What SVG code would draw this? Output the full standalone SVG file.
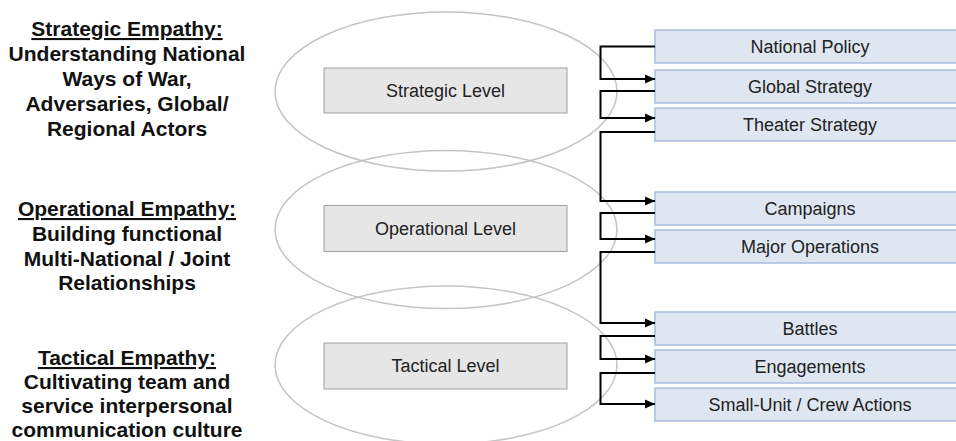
<svg xmlns="http://www.w3.org/2000/svg" width="956" height="441" viewBox="0 0 956 441">
  <defs>
    <marker id="arrow" markerWidth="10" markerHeight="10" refX="10" refY="5" orient="auto" markerUnits="userSpaceOnUse">
      <path d="M0,0.5 L10,5 L0,9.5 Z" fill="#000"/>
    </marker>
    <style>
      .heading { font-family: "Liberation Sans", Arial, sans-serif; font-size: 21px; font-weight: bold; fill: #111; text-anchor: middle; }
      .heading .u { text-decoration: underline; }
      .zone { fill: none; stroke: #c4c4c4; stroke-width: 1.5; }
      .level rect { fill: #e6e6e6; stroke: #a0a0a0; stroke-width: 1; }
      .level text { font-family: "Liberation Sans", Arial, sans-serif; font-size: 18px; fill: #222; text-anchor: middle; dominant-baseline: central; }
      .item rect { fill: #dde6f1; stroke: #a9bedb; stroke-width: 1.5; }
      .item text { font-family: "Liberation Sans", Arial, sans-serif; font-size: 18px; fill: #222; text-anchor: middle; dominant-baseline: central; }
      .link { fill: none; stroke: #000; stroke-width: 2; }
    </style>
  </defs>

  <rect width="956" height="441" fill="#fff"/>

  <!-- Empathy descriptions -->
  <g id="strategic-empathy" class="heading">
    <text x="127" y="36"><tspan class="u">Strategic Empathy:</tspan></text>
    <text x="127" y="61">Understanding National</text>
    <text x="127" y="86">Ways of War,</text>
    <text x="127" y="111">Adversaries, Global/</text>
    <text x="127" y="136">Regional Actors</text>
  </g>
  <g id="operational-empathy" class="heading">
    <text x="127" y="216"><tspan class="u">Operational Empathy:</tspan></text>
    <text x="127" y="241">Building functional</text>
    <text x="127" y="266">Multi-National / Joint</text>
    <text x="127" y="290">Relationships</text>
  </g>
  <g id="tactical-empathy" class="heading">
    <text x="127" y="365"><tspan class="u">Tactical Empathy:</tspan></text>
    <text x="127" y="389">Cultivating team and</text>
    <text x="127" y="413">service interpersonal</text>
    <text x="127" y="437">communication culture</text>
  </g>

  <!-- Level zones -->
  <ellipse class="zone" cx="446" cy="91.5" rx="171" ry="79.5"/>
  <ellipse class="zone" cx="446" cy="229.5" rx="171" ry="79"/>
  <ellipse class="zone" cx="446" cy="365" rx="171" ry="79"/>

  <g id="strategic-level" class="level">
    <rect x="324" y="68" width="243" height="45"/>
    <text x="445.5" y="91">Strategic Level</text>
  </g>
  <g id="operational-level" class="level">
    <rect x="324" y="205.5" width="243" height="46"/>
    <text x="445.5" y="229">Operational Level</text>
  </g>
  <g id="tactical-level" class="level">
    <rect x="324" y="343" width="243" height="46"/>
    <text x="445.5" y="366">Tactical Level</text>
  </g>

  <!-- Level of war items -->
  <g id="national-policy" class="item">
    <rect x="655" y="30" width="310" height="33"/>
    <text x="810" y="47">National Policy</text>
  </g>
  <g id="global-strategy" class="item">
    <rect x="655" y="70" width="310" height="33"/>
    <text x="810" y="87">Global Strategy</text>
  </g>
  <g id="theater-strategy" class="item">
    <rect x="655" y="108" width="310" height="33"/>
    <text x="810" y="125">Theater Strategy</text>
  </g>
  <g id="campaigns" class="item">
    <rect x="655" y="192" width="310" height="33"/>
    <text x="810" y="209">Campaigns</text>
  </g>
  <g id="major-operations" class="item">
    <rect x="655" y="230" width="310" height="33"/>
    <text x="810" y="247">Major Operations</text>
  </g>
  <g id="battles" class="item">
    <rect x="655" y="312" width="310" height="33"/>
    <text x="810" y="329">Battles</text>
  </g>
  <g id="engagements" class="item">
    <rect x="655" y="350" width="310" height="33"/>
    <text x="810" y="367">Engagements</text>
  </g>
  <g id="small-unit-actions" class="item">
    <rect x="655" y="388" width="310" height="33"/>
    <text x="810" y="405">Small-Unit / Crew Actions</text>
  </g>

  <!-- Cascade connectors -->
  <g id="connectors" class="link">
    <path d="M655,46.5 H600.5 V79 H655" marker-end="url(#arrow)"/>
    <path d="M655,91 H600.5 V118 H655" marker-end="url(#arrow)"/>
    <path d="M655,132 H600.5 V201 H655" marker-end="url(#arrow)"/>
    <path d="M655,213 H600.5 V239 H655" marker-end="url(#arrow)"/>
    <path d="M655,252 H600.5 V323 H655" marker-end="url(#arrow)"/>
    <path d="M655,336 H600.5 V359 H655" marker-end="url(#arrow)"/>
    <path d="M655,373 H600.5 V404 H655" marker-end="url(#arrow)"/>
  </g>
</svg>
